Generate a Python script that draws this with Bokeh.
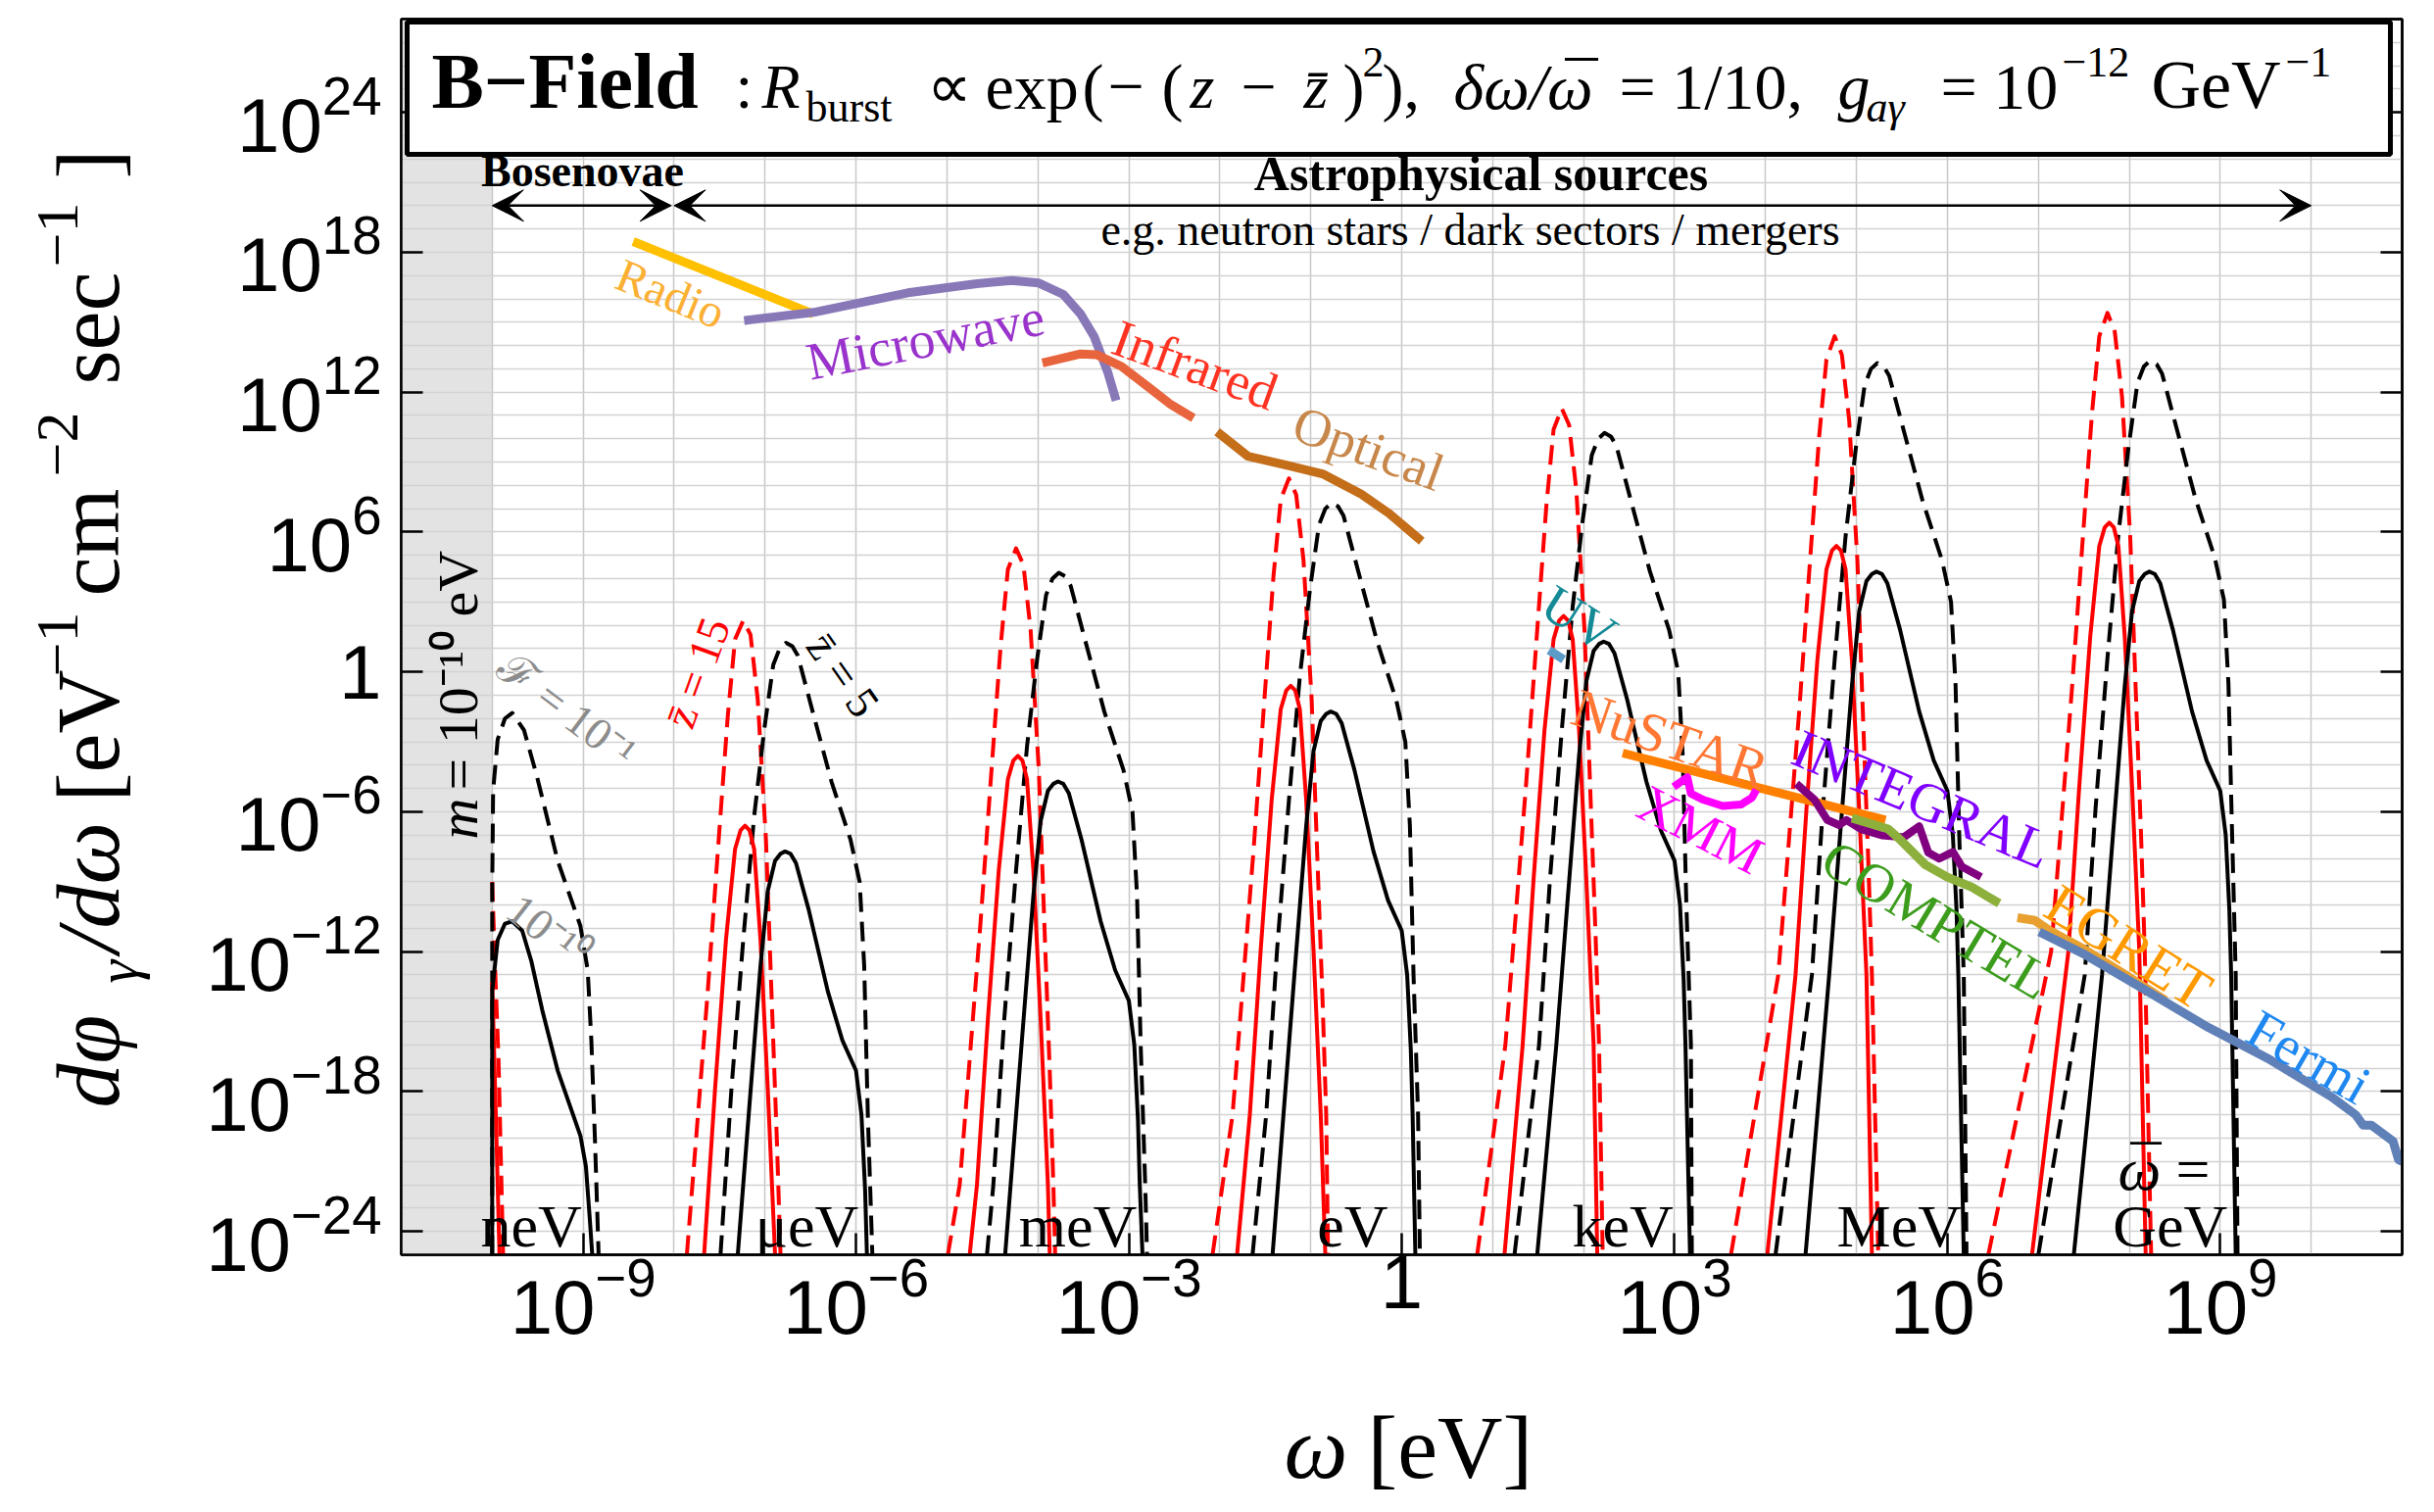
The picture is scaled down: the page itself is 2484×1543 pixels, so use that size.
import numpy as np
from bokeh.plotting import figure
from bokeh.layouts import row, column
from bokeh.models import (FixedTicker, LogAxis, Label, Arrow, VeeHead, BoxAnnotation,
                          LogTickFormatter, CustomJSTickFormatter, Range1d)
from bokeh.embed import file_html
from bokeh.resources import INLINE

# ---------------- data (log10 of omega [eV], log10 of flux) ----------------
axion_mass = 1e-10
x_lo, x_hi = 1e-11, 1e11
y_lo, y_hi = 1e-25, 1e28

x_major_ticks = [1e-9, 1e-6, 1e-3, 1.0, 1e3, 1e6, 1e9]
y_major_ticks = [1e-24, 1e-18, 1e-12, 1e-6, 1.0, 1e6, 1e12, 1e18, 1e24]

# RD: red dashed (zbar=15, F=1e-1), BD: black dashed (zbar=5, F=1e-1)
# RS: red solid (zbar=15, F=1e-10), BS: black solid (zbar=5, F=1e-10)
neV_rd_lw = [-10.0, -9.97, -9.93, -9.88]
neV_rd_lf = [-9.0, -12.5, -16.7, -25.0]
neV_rs_lw = [-10.0, -9.96, -9.92]
neV_rs_lf = [-13.3, -19.0, -25.0]
neV_bd_lw = [-10.0, -10.0, -9.99, -9.94, -9.86, -9.78, -9.65, -9.51, -9.28, -9.03, -8.95, -8.91, -8.87, -8.83]
neV_bd_lf = [-25.0, -9.4, -5.1, -2.9, -2.0, -1.76, -2.5, -4.45, -8.1, -10.9, -12.8, -15.8, -20.1, -25.0]
neV_bs_lw = [-10.0, -10.0, -9.94, -9.86, -9.78, -9.67, -9.57, -9.45, -9.28, -9.03, -8.97, -8.93, -8.90]
neV_bs_lf = [-25.0, -13.7, -11.5, -10.8, -10.7, -11.1, -12.4, -14.5, -17.1, -19.9, -21.2, -23.3, -25.0]

ueV_rd_lw = [-7.86, -7.76, -7.63, -7.51, -7.41, -7.33, -7.24, -7.16, -7.08, -6.99, -6.93, -6.87, -6.83]
ueV_rd_lf = [-25.0, -20.1, -13.7, -7.2, -1.9, 1.4, 2.2, 1.6, -1.2, -7.2, -13.7, -20.1, -25.0]
ueV_rs_lw = [-7.67, -7.55, -7.43, -7.33, -7.27, -7.22, -7.17, -7.12, -7.05, -6.97, -6.89]
ueV_rs_lf = [-25.0, -17.9, -11.5, -7.6, -6.8, -6.6, -6.8, -7.6, -11.5, -17.9, -25.0]
ueV_bd_lw = [-7.49, -7.37, -7.24, -7.12, -7.01, -6.91, -6.84, -6.77, -6.70, -6.64, -6.48, -6.27, -6.06, -5.96, -5.91, -5.87, -5.82]
ueV_bd_lf = [-25.0, -17.9, -11.5, -6.2, -2.5, 0.3, 1.0, 1.25, 1.1, 0.7, -1.65, -4.7, -7.2, -9.0, -12.6, -19.0, -25.0]
ueV_bs_lw = [-7.30, -7.18, -7.05, -6.97, -6.89, -6.83, -6.78, -6.72, -6.66, -6.52, -6.31, -6.15, -6.00, -5.94, -5.90, -5.88]
ueV_bs_lf = [-25.0, -19.0, -12.6, -9.4, -8.1, -7.8, -7.7, -7.8, -8.2, -10.2, -13.7, -15.8, -17.1, -19.0, -22.2, -25.0]

meV_rd_lw = [-4.99, -4.86, -4.76, -4.63, -4.51, -4.41, -4.33, -4.24, -4.16, -4.08, -3.99, -3.93, -3.87, -3.83, -3.81]
meV_rd_lf = [-25.0, -22.0, -17.1, -10.7, -4.2, 1.1, 4.4, 5.3, 4.6, 1.8, -4.2, -10.7, -17.1, -22.0, -25.0]
meV_rs_lw = [-4.75, -4.67, -4.55, -4.43, -4.33, -4.27, -4.22, -4.17, -4.12, -4.05, -3.97, -3.89, -3.87]
meV_rs_lf = [-25.0, -22.0, -14.9, -8.5, -4.6, -3.8, -3.6, -3.8, -4.6, -8.5, -14.9, -22.0, -25.0]
meV_bd_lw = [-4.56, -4.49, -4.37, -4.24, -4.12, -4.01, -3.91, -3.84, -3.77, -3.70, -3.64, -3.48, -3.27, -3.06, -2.96, -2.91, -2.87, -2.82, -2.80]
meV_bd_lf = [-25.0, -22.0, -14.9, -8.5, -3.2, 0.5, 3.3, 4.0, 4.25, 4.1, 3.7, 1.35, -1.7, -4.2, -6.0, -9.6, -16.0, -22.0, -25.0]
meV_bs_lw = [-4.36, -4.30, -4.18, -4.05, -3.97, -3.89, -3.83, -3.78, -3.72, -3.66, -3.52, -3.31, -3.15, -3.00, -2.94, -2.90, -2.88, -2.85]
meV_bs_lf = [-25.0, -22.0, -16.0, -9.6, -6.4, -5.1, -4.8, -4.7, -4.8, -5.2, -7.2, -10.7, -12.8, -14.1, -16.0, -19.2, -22.0, -25.0]

eV_rd_lw = [-2.08, -1.86, -1.76, -1.63, -1.51, -1.41, -1.33, -1.24, -1.16, -1.08, -0.99, -0.93, -0.87, -0.83, -0.81]
eV_rd_lf = [-25.0, -19.0, -14.1, -7.7, -1.2, 4.1, 7.4, 8.3, 7.6, 4.8, -1.2, -7.7, -14.1, -19.0, -25.0]
eV_rs_lw = [-1.81, -1.67, -1.55, -1.43, -1.33, -1.27, -1.22, -1.17, -1.12, -1.05, -0.97, -0.89, -0.84]
eV_rs_lf = [-25.0, -19.0, -11.9, -5.5, -1.6, -0.8, -0.6, -0.8, -1.6, -5.5, -11.9, -19.0, -25.0]
eV_bd_lw = [-1.64, -1.49, -1.37, -1.24, -1.12, -1.01, -0.91, -0.84, -0.77, -0.70, -0.64, -0.48, -0.27, -0.06, 0.04, 0.09, 0.13, 0.18, 0.20]
eV_bd_lf = [-25.0, -19.0, -11.9, -5.5, -0.2, 3.5, 6.3, 7.0, 7.25, 7.1, 6.7, 4.35, 1.3, -1.2, -3.0, -6.6, -13.0, -19.0, -25.0]
eV_bs_lw = [-1.42, -1.30, -1.18, -1.05, -0.97, -0.89, -0.83, -0.78, -0.72, -0.66, -0.52, -0.31, -0.15, 0.00, 0.06, 0.10, 0.12, 0.15]
eV_bs_lf = [-25.0, -19.0, -13.0, -6.6, -3.4, -2.1, -1.8, -1.7, -1.8, -2.2, -4.2, -7.7, -9.8, -11.1, -13.0, -16.2, -19.0, -25.0]

keV_rd_lw = [0.83, 1.14, 1.24, 1.37, 1.49, 1.59, 1.67, 1.76, 1.84, 1.92, 2.01, 2.07, 2.13, 2.17, 2.21]
keV_rd_lf = [-25.0, -16.0, -11.1, -4.7, 1.8, 7.1, 10.4, 11.3, 10.6, 7.8, 1.8, -4.7, -11.1, -16.0, -25.0]
keV_rs_lw = [1.13, 1.33, 1.45, 1.57, 1.67, 1.73, 1.78, 1.83, 1.88, 1.95, 2.03, 2.11, 2.15]
keV_rs_lf = [-25.0, -16.0, -8.9, -2.5, 1.4, 2.2, 2.4, 2.2, 1.4, -2.5, -8.9, -16.0, -25.0]
keV_bd_lw = [1.24, 1.51, 1.63, 1.76, 1.88, 1.99, 2.09, 2.16, 2.23, 2.30, 2.36, 2.52, 2.73, 2.94, 3.04, 3.09, 3.13, 3.18, 3.19]
keV_bd_lf = [-25.0, -16.0, -8.9, -2.5, 2.8, 6.5, 9.3, 10.0, 10.25, 10.1, 9.7, 7.35, 4.3, 1.8, 0.0, -3.6, -10.0, -16.0, -25.0]
keV_bs_lw = [1.49, 1.70, 1.82, 1.95, 2.03, 2.11, 2.17, 2.22, 2.28, 2.34, 2.48, 2.69, 2.85, 3.00, 3.06, 3.10, 3.12, 3.17]
keV_bs_lf = [-25.0, -16.0, -10.0, -3.6, -0.4, 0.9, 1.2, 1.3, 1.2, 0.8, -1.2, -4.7, -6.8, -8.1, -10.0, -13.2, -16.0, -25.0]

MeV_rd_lw = [3.62, 4.14, 4.24, 4.37, 4.49, 4.59, 4.67, 4.76, 4.84, 4.92, 5.01, 5.07, 5.13, 5.17, 5.24]
MeV_rd_lf = [-25.0, -13.0, -8.1, -1.7, 4.8, 10.1, 13.4, 14.4, 13.6, 10.8, 4.8, -1.7, -8.1, -13.0, -25.0]
MeV_rs_lw = [4.02, 4.33, 4.45, 4.57, 4.67, 4.73, 4.78, 4.83, 4.88, 4.95, 5.03, 5.11, 5.17]
MeV_rs_lf = [-25.0, -13.0, -5.9, 0.5, 4.4, 5.2, 5.4, 5.2, 4.4, 0.5, -5.9, -13.0, -25.0]
MeV_bd_lw = [4.11, 4.51, 4.63, 4.76, 4.88, 4.99, 5.09, 5.16, 5.23, 5.30, 5.36, 5.52, 5.73, 5.94, 6.04, 6.09, 6.13, 6.18, 6.21]
MeV_bd_lf = [-25.0, -13.0, -5.9, 0.5, 5.8, 9.5, 12.3, 13.0, 13.25, 13.1, 12.7, 10.35, 7.3, 4.8, 3.0, -0.6, -7.0, -13.0, -25.0]
MeV_bs_lw = [4.44, 4.70, 4.82, 4.95, 5.03, 5.11, 5.17, 5.22, 5.28, 5.34, 5.48, 5.69, 5.85, 6.00, 6.06, 6.10, 6.12, 6.18]
MeV_bs_lf = [-25.0, -13.0, -7.0, -0.6, 2.6, 3.9, 4.2, 4.3, 4.2, 3.8, 1.8, -1.7, -3.8, -5.1, -7.0, -10.2, -13.0, -25.0]

GeV_rd_lw = [6.45, 7.14, 7.24, 7.37, 7.49, 7.59, 7.67, 7.76, 7.84, 7.92, 8.01, 8.07, 8.13, 8.17, 8.24]
GeV_rd_lf = [-25.0, -12.0, -7.1, -0.7, 5.8, 11.1, 14.4, 15.4, 14.6, 11.8, 5.8, -0.7, -7.1, -12.0, -25.0]
GeV_rs_lw = [6.93, 7.33, 7.45, 7.57, 7.67, 7.73, 7.78, 7.83, 7.88, 7.95, 8.03, 8.11, 8.18]
GeV_rs_lf = [-25.0, -12.0, -4.9, 1.5, 5.4, 6.2, 6.4, 6.2, 5.4, 1.5, -4.9, -12.0, -25.0]
GeV_bd_lw = [7.00, 7.51, 7.63, 7.76, 7.88, 7.99, 8.09, 8.16, 8.23, 8.30, 8.36, 8.52, 8.73, 8.94, 9.04, 9.09, 9.13, 9.17, 9.19]
GeV_bd_lf = [-25.0, -13.0, -5.8, 0.6, 5.9, 9.6, 12.4, 13.1, 13.35, 13.2, 12.8, 10.45, 7.4, 4.9, 3.1, -0.5, -6.9, -13.0, -25.0]
GeV_bs_lw = [7.39, 7.70, 7.82, 7.95, 8.03, 8.11, 8.17, 8.22, 8.28, 8.34, 8.48, 8.69, 8.85, 9.00, 9.06, 9.10, 9.12, 9.17]
GeV_bs_lf = [-25.0, -13.0, -7.0, -0.6, 2.6, 3.9, 4.2, 4.3, 4.2, 3.8, 1.8, -1.7, -3.8, -5.1, -7.0, -10.2, -13.0, -25.0]

# astrophysical backgrounds (log10 omega, log10 flux)
radio_lw = [-8.45, -6.47]
radio_lf = [18.46, 15.35]
microwave_lw = [-7.23, -6.47, -5.43, -4.67, -4.29, -3.99, -3.72, -3.53, -3.38, -3.23, -3.14]
microwave_lf = [15.07, 15.42, 16.26, 16.65, 16.79, 16.68, 16.19, 15.35, 14.37, 12.83, 11.64]
infrared_lw = [-3.95, -3.53, -3.35, -3.08, -2.78, -2.55, -2.29]
infrared_lf = [13.25, 13.64, 13.6, 13.1, 12.2, 11.5, 10.89]
optical_lw = [-2.03, -1.69, -1.27, -0.86, -0.45, -0.14, 0.22]
optical_lf = [10.30, 9.25, 8.87, 8.48, 7.64, 6.8, 5.61]
uv_lw = [1.62, 1.78]
uv_lf = [0.93, 0.53]
nustar_lw = [2.43, 5.32]
nustar_lf = [-3.48, -6.35]
xmm_lw = [2.99, 3.14, 3.18, 3.32, 3.53, 3.73, 3.85, 3.90]
xmm_lf = [-4.93, -4.52, -5.22, -5.49, -5.75, -5.69, -5.4, -5.05]
integral_lw = [4.34, 4.54, 4.68, 4.81, 4.89, 5.05, 5.28, 5.52, 5.69, 5.79, 5.91, 6.06, 6.16, 6.37]
integral_lf = [-4.79, -5.49, -6.35, -6.57, -6.35, -6.74, -7.01, -7.09, -6.62, -7.75, -8.01, -7.72, -8.36, -8.80]
comptel_lw = [4.95, 5.35, 5.49, 5.76, 6.00, 6.27, 6.57]
comptel_lf = [-6.27, -6.74, -7.23, -8.28, -8.80, -9.23, -9.93]
egret_lw = [6.77, 6.96, 7.11, 7.52, 7.92, 8.40]
egret_lf = [-10.54, -10.66, -11.06, -11.93, -12.9, -14.1]
fermi_lw = [7.01, 7.52, 8.19, 8.87, 9.55, 10.22, 10.49, 10.57, 10.66, 10.90, 10.96, 11.0]
fermi_lf = [-11.15, -12.14, -13.68, -15.25, -16.64, -18.22, -19.0, -19.44, -19.44, -20.13, -20.92, -21.0]

group_names = ["neV", "μeV", "meV", "eV", "keV", "MeV", "GeV"]
group_label_lw = [-9.57, -6.54, -3.56, -0.54, 2.43, 5.47, 8.45]

bosenovae_range = [1e-10, 10 ** -8.03]
astro_range = [1e-8, 1e10]
arrow_level = 1e20

# ---------------- layout geometry ----------------
W, H = 2484, 1543
YLAB_W = 160          # strip left of the main figure for the y label
XLAB_H = 130          # strip below the main figure for the x label
L, R, T, B = 409, 33, 19, 263
FW, FH = W - L - R, H - T - B
DX = FW / 22.0
DY = FH / 53.0
SERIF = "Liberation Serif"
TICK_FONT = "Liberation Sans"
MID = 0.34            # baseline -> middle offset (in em)


def px_x(X):
    return 10 ** (-11 + (X - L) / DX)


def px_y(Y):
    return 10 ** (28 - (Y - T) / DY)


p = figure(width=W - YLAB_W, height=H - XLAB_H, x_axis_type="log", y_axis_type="log",
           x_range=(x_lo, x_hi), y_range=(y_lo, y_hi),
           output_backend="svg", toolbar_location=None,
           min_border_left=L - YLAB_W, min_border_right=R, min_border_top=T,
           min_border_bottom=B - XLAB_H)
p.background_fill_color = "white"
p.border_fill_color = "white"
p.outline_line_color = "black"
p.outline_line_width = 2.5

for ax in (p.xaxis[0], p.yaxis[0]):
    ax.major_tick_in = 22
    ax.major_tick_out = 0
    ax.minor_tick_line_color = None
    ax.axis_line_width = 2.5
    ax.major_tick_line_width = 2.5
    ax.major_label_text_font = TICK_FONT
    ax.major_label_text_font_size = "78px"
    ax.major_label_text_color = "black"
    ax.formatter = LogTickFormatter()
    ax.major_label_overrides = {1: "1"}
p.xaxis[0].ticker = FixedTicker(ticks=x_major_ticks)
p.yaxis[0].ticker = FixedTicker(ticks=y_major_ticks)
p.xaxis[0].major_label_standoff = 0
p.yaxis[0].major_label_standoff = 20

blank = CustomJSTickFormatter(code="return ''")
for side, ticks in (("above", x_major_ticks), ("right", y_major_ticks)):
    ax2 = LogAxis(ticker=FixedTicker(ticks=ticks), major_tick_in=22, major_tick_out=0,
                  minor_tick_line_color=None, axis_line_width=2.5, major_tick_line_width=2.5,
                  formatter=blank, major_label_text_font_size="8px", major_label_standoff=0)
    p.add_layout(ax2, side)

p.xgrid.ticker = FixedTicker(ticks=[10.0 ** k for k in range(-11, 12)])
p.ygrid.ticker = FixedTicker(ticks=[10.0 ** k for k in range(-25, 29)])
for g in (p.xgrid, p.ygrid):
    g.grid_line_color = "#d2d2d2"
    g.grid_line_width = 1.5
p.xgrid.grid_line_color = "#c8c8c8"

# gray region omega < m
p.quad(left=[x_lo], right=[axion_mass], bottom=[y_lo], top=[y_hi],
       fill_color="#e3e3e3", line_color=None, level="image")

# ---------------- spectra ----------------
groups = [
    (neV_rd_lw, neV_rd_lf, neV_bd_lw, neV_bd_lf, neV_rs_lw, neV_rs_lf, neV_bs_lw, neV_bs_lf),
    (ueV_rd_lw, ueV_rd_lf, ueV_bd_lw, ueV_bd_lf, ueV_rs_lw, ueV_rs_lf, ueV_bs_lw, ueV_bs_lf),
    (meV_rd_lw, meV_rd_lf, meV_bd_lw, meV_bd_lf, meV_rs_lw, meV_rs_lf, meV_bs_lw, meV_bs_lf),
    (eV_rd_lw, eV_rd_lf, eV_bd_lw, eV_bd_lf, eV_rs_lw, eV_rs_lf, eV_bs_lw, eV_bs_lf),
    (keV_rd_lw, keV_rd_lf, keV_bd_lw, keV_bd_lf, keV_rs_lw, keV_rs_lf, keV_bs_lw, keV_bs_lf),
    (MeV_rd_lw, MeV_rd_lf, MeV_bd_lw, MeV_bd_lf, MeV_rs_lw, MeV_rs_lf, MeV_bs_lw, MeV_bs_lf),
    (GeV_rd_lw, GeV_rd_lf, GeV_bd_lw, GeV_bd_lf, GeV_rs_lw, GeV_rs_lf, GeV_bs_lw, GeV_bs_lf),
]
styles = [("#ff0000", "20 10"), ("#000000", "20 10"), ("#ff0000", "solid"), ("#000000", "solid")]
for g in groups:
    for i, (col, dash) in enumerate(styles):
        xs = 10 ** np.array(g[2 * i])
        ys = 10 ** np.array(g[2 * i + 1])
        p.line(xs, ys, line_color=col, line_width=4, line_dash=dash, line_join="round")

bands = [
    (radio_lw, radio_lf, "#ffc000", 9),
    (microwave_lw, microwave_lf, "#8878b8", 9),
    (infrared_lw, infrared_lf, "#e8643c", 9),
    (optical_lw, optical_lf, "#c46e1a", 9),
    (uv_lw, uv_lf, "#5b9bc8", 9),
    (nustar_lw, nustar_lf, "#ff8000", 9),
    (xmm_lw, xmm_lf, "#ff00ff", 8),
    (integral_lw, integral_lf, "#800080", 8),
    (comptel_lw, comptel_lf, "#8db03c", 9),
    (egret_lw, egret_lf, "#e8a030", 9),
    (fermi_lw, fermi_lf, "#6080b8", 9),
]
for lw_, lf_, col, w in bands:
    p.line(10 ** np.array(lw_), 10 ** np.array(lf_), line_color=col, line_width=w, line_join="round")


# ---------------- annotations ----------------
def lab(text, X, Y, size, color="black", angle=0, align="left", baseline="alphabetic",
        style="normal", fig=None, font=SERIF):
    """X, Y are page pixel positions; for 'alphabetic' they give the baseline anchor."""
    a = np.deg2rad(angle)
    if baseline == "alphabetic":
        X = X - MID * size * np.sin(a)
        Y = Y - MID * size * np.cos(a)
        baseline = "middle"
    if fig is None:
        fig, x, y = p, px_x(X), px_y(Y)
    else:
        x, y = X, Y
    fig.add_layout(Label(x=x, y=y, text=text, text_font=font,
                         text_font_size=f"{size}px", text_color=color,
                         angle=float(a), text_align=align, text_baseline=baseline,
                         text_font_style=style))


# title box
p.add_layout(BoxAnnotation(left=px_x(415), right=px_x(2439), top=px_y(22), bottom=px_y(157),
                           fill_color="white", fill_alpha=1.0, line_color="black",
                           line_alpha=1.0, line_width=5))
title_parts = [
    ("B−Field", 440, 110, 80, "bold"),
    (":", 750, 110, 64, "normal"),
    ("R", 777, 110, 64, "italic"),
    ("burst", 822, 124, 44, "normal"),
    ("∝", 945, 110, 64, "normal"),
    ("exp", 1005, 110, 66, "normal"),
    ("(", 1104, 110, 66, "normal"),
    ("−", 1130, 110, 66, "normal"),
    ("(", 1185, 110, 66, "normal"),
    ("z", 1214, 110, 64, "italic"),
    ("−", 1266, 110, 64, "normal"),
    ("z\u0304", 1330, 110, 64, "italic"),
    (")", 1370, 110, 66, "normal"),
    ("2", 1390, 78, 44, "normal"),
    ("),", 1410, 110, 66, "normal"),
    ("δω/ω", 1483, 110, 66, "italic"),
    ("¯", 1597, 108, 66, "normal"),
    ("= 1/10,", 1652, 110, 66, "normal"),
    ("g", 1875, 110, 66, "italic"),
    ("aγ", 1904, 124, 44, "italic"),
    ("= 10", 1980, 110, 66, "normal"),
    ("−12", 2104, 78, 44, "normal"),
    ("GeV", 2195, 110, 70, "normal"),
    ("−1", 2332, 78, 44, "normal"),
]
for t, X, Y, s, st in title_parts:
    lab(t, X, Y, s, style=st)

# arrows
def head():
    return VeeHead(size=32, fill_color="black", line_color="black")

p.add_layout(Arrow(start=head(), end=head(),
                   x_start=bosenovae_range[0], y_start=arrow_level,
                   x_end=bosenovae_range[1], y_end=arrow_level, line_width=2.5))
p.add_layout(Arrow(start=head(), end=head(),
                   x_start=astro_range[0], y_start=arrow_level,
                   x_end=astro_range[1], y_end=arrow_level, line_width=2.5))
lab("Bosenovae", 594, 190, 46, align="center", style="bold")
lab("Astrophysical sources", 1511, 193, 50, align="center", style="bold")
lab("e.g. neutron stars / dark sectors / mergers", 1500, 250, 46, align="center")

# band labels (centre positions)
band_labels = [
    ("Radio", 684, 299, -22, "#fbb034", 48),
    ("Microwave", 944, 346, 11, "#9933cc", 54),
    ("Infrared", 1219, 372, -20, "#ff3322", 54),
    ("Optical", 1396, 457, -20, "#c8874a", 54),
    ("UV", 1611, 631, -32, "#148a96", 54),
    ("NuSTAR", 1704, 753, -19, "#ff7733", 56),
    ("XMM", 1735, 846, -27, "#ff00ff", 54),
    ("INTEGRAL", 1961, 815, -23, "#8000ff", 56),
    ("COMPTEL", 1976, 938, -31, "#3c9c1c", 56),
    ("EGRET", 2172, 966, -32, "#ff9900", 58),
    ("Fermi", 2356, 1078, -30, "#1e88f0", 56),
]
for t, X, Y, a, c, s in band_labels:
    lab(t, X, Y, s, color=c, angle=a, align="center", baseline="middle")

# curve labels
lab("ℱ = 10⁻¹", 578, 724, 46, color="#8c8c8c", angle=-37, align="center", baseline="middle")
lab("10⁻¹⁰", 559, 950, 46, color="#8c8c8c", angle=-38, align="center", baseline="middle")
lab("z\u0304 = 15", 711, 686, 46, color="#ff0000", angle=70, align="center", baseline="middle")
lab("z\u0304 = 5", 860, 688, 46, color="black", angle=-55, align="center", baseline="middle")
lab("m", 487, 856, 58, angle=90, align="left", style="italic")
lab("= 10⁻¹⁰ eV", 487, 806, 58, angle=90, align="left")

# group labels along the bottom
for name, lw_ in zip(group_names, group_label_lw):
    X = L + (lw_ + 11) * DX
    lab(name, X, 1272, 62, align="center")
lab("ω", 2161, 1214, 62, align="left", style="italic")
lab("¯", 2174, 1212, 62, align="left")
lab("=", 2220, 1214, 62, align="left")

# ---------------- y label strip ----------------
ylab = figure(width=YLAB_W, height=H, x_range=Range1d(0, YLAB_W), y_range=Range1d(H, 0),
              output_backend="svg", toolbar_location=None,
              x_axis_location=None, y_axis_location=None, min_border=0)
ylab.outline_line_color = None
ylab.grid.visible = False
ylab.background_fill_color = "white"
ylab.border_fill_color = "white"
ylab_parts = [
    ("dφ", 121, 1130, 90, "italic"),
    ("γ", 140, 1003, 60, "italic"),
    ("/dω", 121, 972, 90, "italic"),
    ("[eV", 121, 818, 90, "normal"),
    ("−1", 80, 690, 62, "normal"),
    ("cm", 121, 608, 90, "normal"),
    ("−2", 80, 486, 62, "normal"),
    ("sec", 121, 392, 90, "normal"),
    ("−1", 80, 272, 62, "normal"),
    ("]", 121, 182, 90, "normal"),
]
for t, X, Y, s, st in ylab_parts:
    lab(t, X, Y, s, angle=90, style=st, fig=ylab)

# ---------------- x label strip (frame aligned with the main frame) ----------------
xlab = figure(width=W - YLAB_W, height=XLAB_H, x_range=Range1d(L, W - R),
              y_range=Range1d(H, H - XLAB_H),
              output_backend="svg", toolbar_location=None,
              x_axis_location=None, y_axis_location=None, min_border=0)
xlab.outline_line_color = None
xlab.grid.visible = False
xlab.background_fill_color = "white"
xlab.border_fill_color = "white"
lab("ω", 1310, 1508, 92, style="italic", fig=xlab)
lab("[eV]", 1395, 1508, 92, fig=xlab)

layout = row(ylab, column(p, xlab, spacing=0), spacing=0)
open("out.html", "w").write(file_html(layout, INLINE))
